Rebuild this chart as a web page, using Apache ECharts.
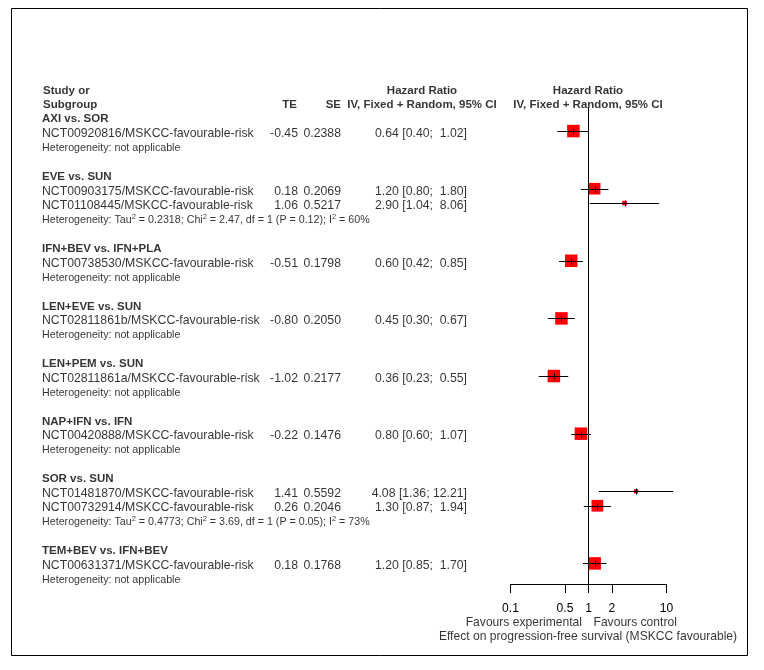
<!DOCTYPE html>
<html>
<head>
<meta charset="utf-8">
<script src="https://cdn.jsdelivr.net/npm/echarts@6/dist/echarts.min.js"></script>
<style>
  html, body { margin: 0; padding: 0; background: #fff; }
  #chart { width: 764px; height: 670px; }
</style>
</head>
<body>
<div id="chart"></div>
<script>
// subgroups and how many studies each holds
const groupNames = ['AXI vs. SOR', 'EVE vs. SUN', 'IFN+BEV vs. IFN+PLA', 'LEN+EVE vs. SUN',
  'LEN+PEM vs. SUN', 'NAP+IFN vs. IFN', 'SOR vs. SUN', 'TEM+BEV vs. IFN+BEV'];
const groupSizes = [1, 2, 1, 1, 1, 1, 2, 1];

const studies = [
  'NCT00920816/MSKCC-favourable-risk',
  'NCT00903175/MSKCC-favourable-risk',
  'NCT01108445/MSKCC-favourable-risk',
  'NCT00738530/MSKCC-favourable-risk',
  'NCT02811861b/MSKCC-favourable-risk',
  'NCT02811861a/MSKCC-favourable-risk',
  'NCT00420888/MSKCC-favourable-risk',
  'NCT01481870/MSKCC-favourable-risk',
  'NCT00732914/MSKCC-favourable-risk',
  'NCT00631371/MSKCC-favourable-risk'
];
const te = [-0.45, 0.18, 1.06, -0.51, -0.80, -1.02, -0.22, 1.41, 0.26, 0.18];
const se = [0.2388, 0.2069, 0.5217, 0.1798, 0.2050, 0.2177, 0.1476, 0.5592, 0.2046, 0.1768];
const hr = [0.64, 1.20, 2.90, 0.60, 0.45, 0.36, 0.80, 4.08, 1.30, 1.20];
const lower = [0.40, 0.80, 1.04, 0.42, 0.30, 0.23, 0.60, 1.36, 0.87, 0.85];
const upper = [1.02, 1.80, 8.06, 0.85, 0.67, 0.55, 1.07, 12.21, 1.94, 1.70];
const weights = [100, 86, 14, 100, 100, 100, 100, 12, 88, 100]; // % within subgroup

// heterogeneity per subgroup (null = not applicable)
const hetTau2 = [null, '0.2318', null, null, null, null, '0.4773', null];
const hetChi2 = [null, '2.47', null, null, null, null, '3.69', null];
const hetDf = [null, 1, null, null, null, null, 1, null];
const hetP = [null, '0.12', null, null, null, null, '0.05', null];
const hetI2 = [null, 60, null, null, null, null, 73, null];

const xTicks = [0.1, 0.5, 1, 2, 10];

const FONT = 'Liberation Sans, Arial, sans-serif';
const FS = 12.25;      // regular table text
const FS_BOLD = 11.5;  // bold headings
const FS_HET = 10.7;   // heterogeneity lines

// row index of each line in the table
const groupRow = [], studyRow = [], hetRow = [];
let r = 2, s = 0;
groupNames.forEach((g, gi) => {
  groupRow.push(r++);
  for (let j = 0; j < groupSizes[gi]; j++) studyRow[s++] = r++;
  hetRow.push(r++);
  r++;
});

function hetText(gi) {
  if (hetTau2[gi] === null) return 'Heterogeneity: not applicable';
  return 'Heterogeneity: Tau{s|2} = ' + hetTau2[gi] + '; Chi{s|2} = ' + hetChi2[gi] +
    ', df = ' + hetDf[gi] + ' (P = ' + hetP[gi] + '); I{s|2} = ' + hetI2[gi] + '%';
}
function ciText(i) {
  return hr[i].toFixed(2) + ' [' + lower[i].toFixed(2) + '; ' + upper[i].toFixed(2).padStart(5, '\u00a0') + ']';
}

// text columns (x in page pixels on the hidden text axis)
const COL_LEFT = 42, COL_TE = 298, COL_SE = 341, COL_HR = 467, COL_HR_MID = 422, COL_PLOT_MID = 588;

const leftBold = [
  { name: 'Study or', value: [COL_LEFT + 1, 0] },
  { name: 'Subgroup', value: [COL_LEFT + 1, 1] }
].concat(groupNames.map((g, gi) => ({ name: g, value: [COL_LEFT, groupRow[gi]] })));

const leftPlain = studies.map((st, i) => ({ name: st, value: [COL_LEFT, studyRow[i]] }));
const hetItems = groupNames.map((g, gi) => ({ name: hetText(gi), value: [COL_LEFT, hetRow[gi]] }));

const rightPlain = [];
studies.forEach((st, i) => {
  rightPlain.push({ name: te[i].toFixed(2), value: [COL_TE, studyRow[i]] });
  rightPlain.push({ name: se[i].toFixed(4), value: [COL_SE, studyRow[i]] });
  rightPlain.push({ name: ciText(i), value: [COL_HR, studyRow[i]] });
});
const rightBold = [
  { name: 'TE', value: [COL_TE - 1, 1] },
  { name: 'SE', value: [COL_SE, 1] }
];
const centerBold = [
  { name: 'Hazard Ratio', value: [COL_HR_MID, 0] },
  { name: 'IV, Fixed + Random, 95% CI', value: [COL_HR_MID, 1] },
  { name: 'Hazard Ratio', value: [COL_PLOT_MID, 0] },
  { name: 'IV, Fixed + Random, 95% CI', value: [COL_PLOT_MID, 1] }
];
const footRight = [{ name: 'Favours experimental', value: [582, 37.0] }];
const footLeft = [{ name: 'Favours control', value: [593.5, 37.0] }];
const footCenter = [{ name: 'Effect on progression-free survival (MSKCC favourable)', value: [COL_PLOT_MID, 37.97] }];

function textSeries(data, position, bold, size, rich) {
  return {
    type: 'scatter',
    xAxisIndex: 1,
    yAxisIndex: 1,
    symbolSize: 0,
    silent: true,
    clip: false,
    data: data,
    label: {
      show: true,
      position: position,
      distance: 0,
      color: '#000',
      fontFamily: FONT,
      fontSize: size,
      fontWeight: bold ? 'bold' : 'normal',
      formatter: p => p.name,
      rich: rich
    }
  };
}

const chart = echarts.init(document.getElementById('chart'), null, { renderer: 'canvas' });

const option = {
  animation: false,
  backgroundColor: '#fff',
  graphic: [{
    type: 'rect',
    shape: { x: 11.5, y: 8.5, width: 736, height: 647 },
    style: { fill: null, stroke: '#000', lineWidth: 1 },
    silent: true
  }],
  grid: [
    { left: 510.5, width: 156, top: 108, height: 476 },
    { left: 0, width: 764, top: 90.5, height: 560 }
  ],
  xAxis: [
    {
      type: 'log',
      logBase: 10,
      min: 0.1,
      max: 10,
      gridIndex: 0,
      axisLine: { show: true, lineStyle: { color: '#000', width: 1 } },
      axisTick: { show: true, length: 9, customValues: xTicks, lineStyle: { color: '#000', width: 1 } },
      axisLabel: {
        show: true,
        customValues: xTicks,
        margin: 19,
        color: '#000',
        fontFamily: FONT,
        fontSize: 12.1,
        formatter: v => String(+(+v).toPrecision(3))
      },
      splitLine: { show: false },
      minorTick: { show: false }
    },
    { type: 'value', gridIndex: 1, min: 0, max: 764, show: false }
  ],
  yAxis: [
    { type: 'value', gridIndex: 0, inverse: true, min: 1.4, max: 34.43, show: false },
    { type: 'value', gridIndex: 1, inverse: true, min: 0, max: 560 / 14.39, show: false }
  ],
  series: [
    // reference line at HR = 1
    {
      type: 'line',
      xAxisIndex: 0,
      yAxisIndex: 0,
      data: [],
      silent: true,
      markLine: {
        silent: true,
        symbol: ['none', 'none'],
        label: { show: false },
        lineStyle: { color: '#000', type: 'solid', width: 1 },
        data: [{ xAxis: 1 }]
      }
    },
    // weighted boxes
    {
      type: 'scatter',
      xAxisIndex: 0,
      yAxisIndex: 0,
      symbol: 'rect',
      silent: true,
      z: 2,
      itemStyle: { color: '#ff0000', opacity: 1 },
      data: hr.map((v, i) => ({ value: [v, studyRow[i]], symbolSize: 1.25 * Math.sqrt(weights[i]) }))
    },
    // confidence intervals with a tick at the estimate
    {
      type: 'custom',
      xAxisIndex: 0,
      yAxisIndex: 0,
      silent: true,
      z: 3,
      clip: false,
      encode: { x: [0, 1], y: 2 },
      data: hr.map((v, i) => [lower[i], upper[i], studyRow[i], v]),
      renderItem: (params, api) => {
        const a = api.coord([api.value(0), api.value(2)]);
        const b = api.coord([api.value(1), api.value(2)]);
        const c = api.coord([api.value(3), api.value(2)]);
        const y = Math.round(a[1]) + 0.5;
        const cx = Math.round(c[0]) + 0.5;
        return {
          type: 'group',
          children: [
            { type: 'line', shape: { x1: a[0], y1: y, x2: b[0], y2: y }, style: { stroke: '#000', lineWidth: 1 } },
            { type: 'line', shape: { x1: cx, y1: y - 3, x2: cx, y2: y + 3 }, style: { stroke: '#000', lineWidth: 1 } }
          ]
        };
      }
    },
    textSeries(leftBold, 'right', true, FS_BOLD),
    textSeries(leftPlain, 'right', false, FS),
    textSeries(hetItems, 'right', false, FS_HET, {
      s: { fontSize: 7.5, fontFamily: FONT, color: '#000', padding: [0, 0, 7, 0] }
    }),
    textSeries(rightPlain, 'left', false, FS),
    textSeries(rightBold, 'left', true, FS_BOLD),
    textSeries(centerBold, 'inside', true, FS_BOLD),
    textSeries(footRight, 'left', false, 12.1),
    textSeries(footLeft, 'right', false, 12.1),
    textSeries(footCenter, 'inside', false, 12.1)
  ]
};

chart.setOption(option);
window.addEventListener('resize', () => chart.resize());
</script>
</body>
</html>
